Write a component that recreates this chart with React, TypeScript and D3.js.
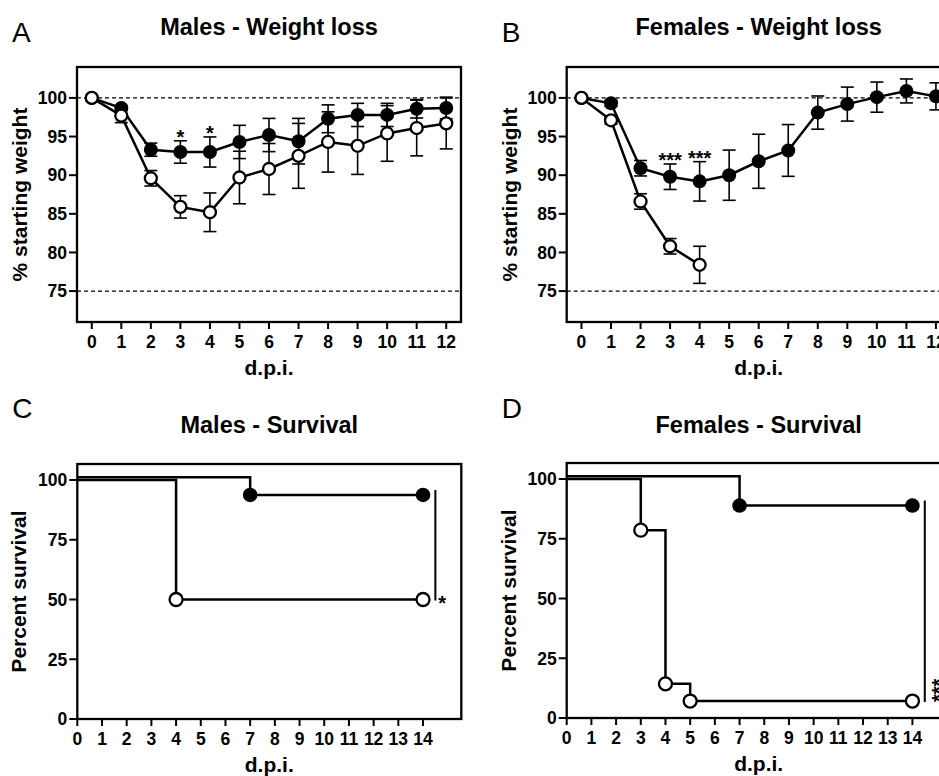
import React from 'react'
import * as d3 from 'd3'

const W = 939
const H = 776
const FONT = "'Liberation Sans', Arial, Helvetica, sans-serif"

// weight loss panels (A, B)
const weightDays = [0, 1, 2, 3, 4, 5, 6, 7, 8, 9, 10, 11, 12]
const weightTicks = [75, 80, 85, 90, 95, 100]
const weightRefLines = [75, 100]

const maleFilledMean = [100, 98.7, 93.3, 93.0, 93.0, 94.3, 95.2, 94.4, 97.3, 97.8, 97.8, 98.6, 98.7]
const maleFilledSem = [0, 0.3, 0.85, 1.45, 1.95, 2.15, 2.15, 2.95, 1.8, 1.5, 1.5, 1.2, 1.4]
const maleOpenMean = [100, 97.7, 89.6, 85.9, 85.2, 89.7, 90.8, 92.5, 94.3, 93.8, 95.4, 96.1, 96.7]
const maleOpenSem = [0, 0.9, 1.0, 1.45, 2.5, 3.4, 3.3, 4.2, 3.9, 3.7, 3.6, 3.6, 3.3]
const maleStars = [{ day: 3, text: '*' }, { day: 4, text: '*' }]

const femaleFilledMean = [100, 99.3, 90.9, 89.8, 89.2, 90.0, 91.8, 93.2, 98.1, 99.2, 100.1, 100.9, 100.2]
const femaleFilledSem = [0, 0.4, 1.0, 1.65, 2.55, 3.25, 3.5, 3.35, 2.15, 2.2, 1.95, 1.55, 1.75]
const femaleOpenMean = [100, 97.1, 86.6, 80.8, 78.4]
const femaleOpenSem = [0, 0.5, 1.0, 1.0, 2.4]
const femaleStars = [{ day: 3, text: '***' }, { day: 4, text: '***' }]

// survival panels (C, D)
const survivalDays = [0, 1, 2, 3, 4, 5, 6, 7, 8, 9, 10, 11, 12, 13, 14]
const survivalTicks = [0, 25, 50, 75, 100]
const maleSurvFilled: [number, number][] = [[0, 100], [7, 93.75], [14, 93.75]]
const maleSurvOpen: [number, number][] = [[0, 100], [4, 50], [14, 50]]
const femaleSurvFilled: [number, number][] = [[0, 100], [7, 88.9], [14, 88.9]]
const femaleSurvOpen: [number, number][] = [[0, 100], [3, 78.6], [4, 14.3], [5, 7.1], [14, 7.1]]

const PW = 384
const PH = 255

function Frame({ left, top }) {
  return (
    <rect x={left} y={top} width={PW} height={PH} fill="none" stroke="#000" strokeWidth={2.3} />
  )
}

function WeightPanel({ left, top, letter, title, filledMean, filledSem, openMean, openSem, stars }) {
  const x = d3.scaleLinear().domain([-0.5, 12.5]).range([left, left + PW])
  const y = d3.scaleLinear().domain([71, 104]).range([top + PH, top])
  const line = d3.line<number>().x((_, i) => x(weightDays[i])).y(d => y(d))

  const errBars = (mean, sem, key) =>
    mean.map((m, i) =>
      sem[i] > 0 ? (
        <g key={key + i} stroke="#000" strokeWidth={1.6}>
          <line x1={x(weightDays[i])} x2={x(weightDays[i])} y1={y(m - sem[i])} y2={y(m + sem[i])} />
          <line x1={x(weightDays[i]) - 6.5} x2={x(weightDays[i]) + 6.5} y1={y(m - sem[i])} y2={y(m - sem[i])} />
          <line x1={x(weightDays[i]) - 6.5} x2={x(weightDays[i]) + 6.5} y1={y(m + sem[i])} y2={y(m + sem[i])} />
        </g>
      ) : null
    )

  return (
    <g fontFamily={FONT}>
      <text x={left - 65} y={42} fontSize={28}>{letter}</text>
      <text x={left + PW / 2} y={35} fontSize={23.5} fontWeight="bold" textAnchor="middle">{title}</text>
      {weightRefLines.map(v => (
        <line key={v} x1={left} x2={left + PW} y1={y(v)} y2={y(v)} stroke="#000" strokeWidth={1.1} strokeDasharray="4,3" />
      ))}
      <Frame left={left} top={top} />
      {weightTicks.map(t => (
        <g key={t}>
          <line x1={left - 8} x2={left} y1={y(t)} y2={y(t)} stroke="#000" strokeWidth={2} />
          <text x={left - 10} y={y(t)} dy="0.36em" fontSize={17.5} fontWeight="bold" textAnchor="end">{t}</text>
        </g>
      ))}
      {weightDays.map(d => (
        <g key={d}>
          <line x1={x(d)} x2={x(d)} y1={top + PH} y2={top + PH + 7} stroke="#000" strokeWidth={2} />
          <text x={x(d)} y={top + PH + 26} fontSize={17.5} fontWeight="bold" textAnchor="middle">{d}</text>
        </g>
      ))}
      <text x={left + PW / 2} y={top + PH + 53} fontSize={21} fontWeight="bold" textAnchor="middle">d.p.i.</text>
      <text transform={`translate(${left - 50},${top + PH / 2}) rotate(-90)`} fontSize={21} fontWeight="bold" textAnchor="middle">
        % starting weight
      </text>

      {errBars(filledMean, filledSem, 'f')}
      <path d={line(filledMean)} fill="none" stroke="#000" strokeWidth={2.5} />
      {filledMean.map((m, i) => (
        <circle key={'fc' + i} cx={x(weightDays[i])} cy={y(m)} r={7} fill="#000" />
      ))}
      {errBars(openMean, openSem, 'o')}
      <path d={line(openMean)} fill="none" stroke="#000" strokeWidth={2.5} />
      {openMean.map((m, i) => (
        <circle key={'oc' + i} cx={x(weightDays[i])} cy={y(m)} r={6} fill="#fff" stroke="#000" strokeWidth={2.3} />
      ))}
      {stars.map(s => (
        <text key={s.day} x={x(s.day)} y={y(filledMean[s.day] + filledSem[s.day]) + 3} fontSize={20} fontWeight="bold" textAnchor="middle">
          {s.text}
        </text>
      ))}
    </g>
  )
}

function SurvivalPanel({ left, top, letter, title, filled, open, sigText, sigRotate }) {
  const x = d3.scaleLinear().domain([0, 15.55]).range([left, left + PW])
  const y = d3.scaleLinear().domain([0, 106.7]).range([top + PH, top])
  // GraphPad nudges the overlapping 100% segment of the second curve upwards
  const yFilled = v => y(v) - (v === 100 ? 2.7 : 0)
  const lineFilled = d3.line<[number, number]>().x(d => x(d[0])).y(d => yFilled(d[1])).curve(d3.curveStepAfter)
  const lineOpen = d3.line<[number, number]>().x(d => x(d[0])).y(d => y(d[1])).curve(d3.curveStepAfter)

  const lastFilled = filled[filled.length - 1][1]
  const lastOpen = open[open.length - 1][1]
  const barX = x(14.5)

  return (
    <g fontFamily={FONT}>
      <text x={left - 65} y={418} fontSize={28}>{letter}</text>
      <text x={left + PW / 2} y={433} fontSize={23.5} fontWeight="bold" textAnchor="middle">{title}</text>
      <Frame left={left} top={top} />
      {survivalTicks.map(t => (
        <g key={t}>
          <line x1={left - 8} x2={left} y1={y(t)} y2={y(t)} stroke="#000" strokeWidth={2} />
          <text x={left - 10} y={y(t)} dy="0.36em" fontSize={17.5} fontWeight="bold" textAnchor="end">{t}</text>
        </g>
      ))}
      {survivalDays.map(d => (
        <g key={d}>
          <line x1={x(d)} x2={x(d)} y1={top + PH} y2={top + PH + 7} stroke="#000" strokeWidth={2} />
          <text x={x(d)} y={top + PH + 26} fontSize={17.5} fontWeight="bold" textAnchor="middle">{d}</text>
        </g>
      ))}
      <text x={left + PW / 2} y={top + PH + 53} fontSize={21} fontWeight="bold" textAnchor="middle">d.p.i.</text>
      <text transform={`translate(${left - 51},${top + PH / 2}) rotate(-90)`} fontSize={21} fontWeight="bold" textAnchor="middle">
        Percent survival
      </text>

      <path d={lineFilled(filled)} fill="none" stroke="#000" strokeWidth={2.5} />
      <path d={lineOpen(open)} fill="none" stroke="#000" strokeWidth={2.5} />
      {filled.slice(1).map(d => (
        <circle key={'f' + d[0]} cx={x(d[0])} cy={y(d[1])} r={7.3} fill="#000" />
      ))}
      {open.slice(1).map(d => (
        <circle key={'o' + d[0]} cx={x(d[0])} cy={y(d[1])} r={6.5} fill="#fff" stroke="#000" strokeWidth={2.3} />
      ))}

      <line x1={barX} x2={barX} y1={y(lastFilled) - 5} y2={y(lastOpen) + 1} stroke="#000" strokeWidth={2} />
      {sigRotate ? (
        <text transform={`translate(${barX + 21},${y(lastOpen) + 1}) rotate(-90)`} fontSize={20} fontWeight="bold">
          {sigText}
        </text>
      ) : (
        <text x={barX + 3} y={y(lastOpen) + 10} fontSize={20} fontWeight="bold">{sigText}</text>
      )}
    </g>
  )
}

export default function App() {
  return (
    <svg width={W} height={H} style={{ position: 'absolute', left: 0, top: 0, background: '#fff' }}>
      <rect width={W} height={H} fill="#fff" />
      <WeightPanel
        left={77}
        top={67}
        letter="A"
        title="Males - Weight loss"
        filledMean={maleFilledMean}
        filledSem={maleFilledSem}
        openMean={maleOpenMean}
        openSem={maleOpenSem}
        stars={maleStars}
      />
      <WeightPanel
        left={566.7}
        top={67}
        letter="B"
        title="Females - Weight loss"
        filledMean={femaleFilledMean}
        filledSem={femaleFilledSem}
        openMean={femaleOpenMean}
        openSem={femaleOpenSem}
        stars={femaleStars}
      />
      <SurvivalPanel
        left={77.3}
        top={464}
        letter="C"
        title="Males - Survival"
        filled={maleSurvFilled}
        open={maleSurvOpen}
        sigText="*"
        sigRotate={false}
      />
      <SurvivalPanel
        left={566.7}
        top={463}
        letter="D"
        title="Females - Survival"
        filled={femaleSurvFilled}
        open={femaleSurvOpen}
        sigText="***"
        sigRotate={true}
      />
    </svg>
  )
}
